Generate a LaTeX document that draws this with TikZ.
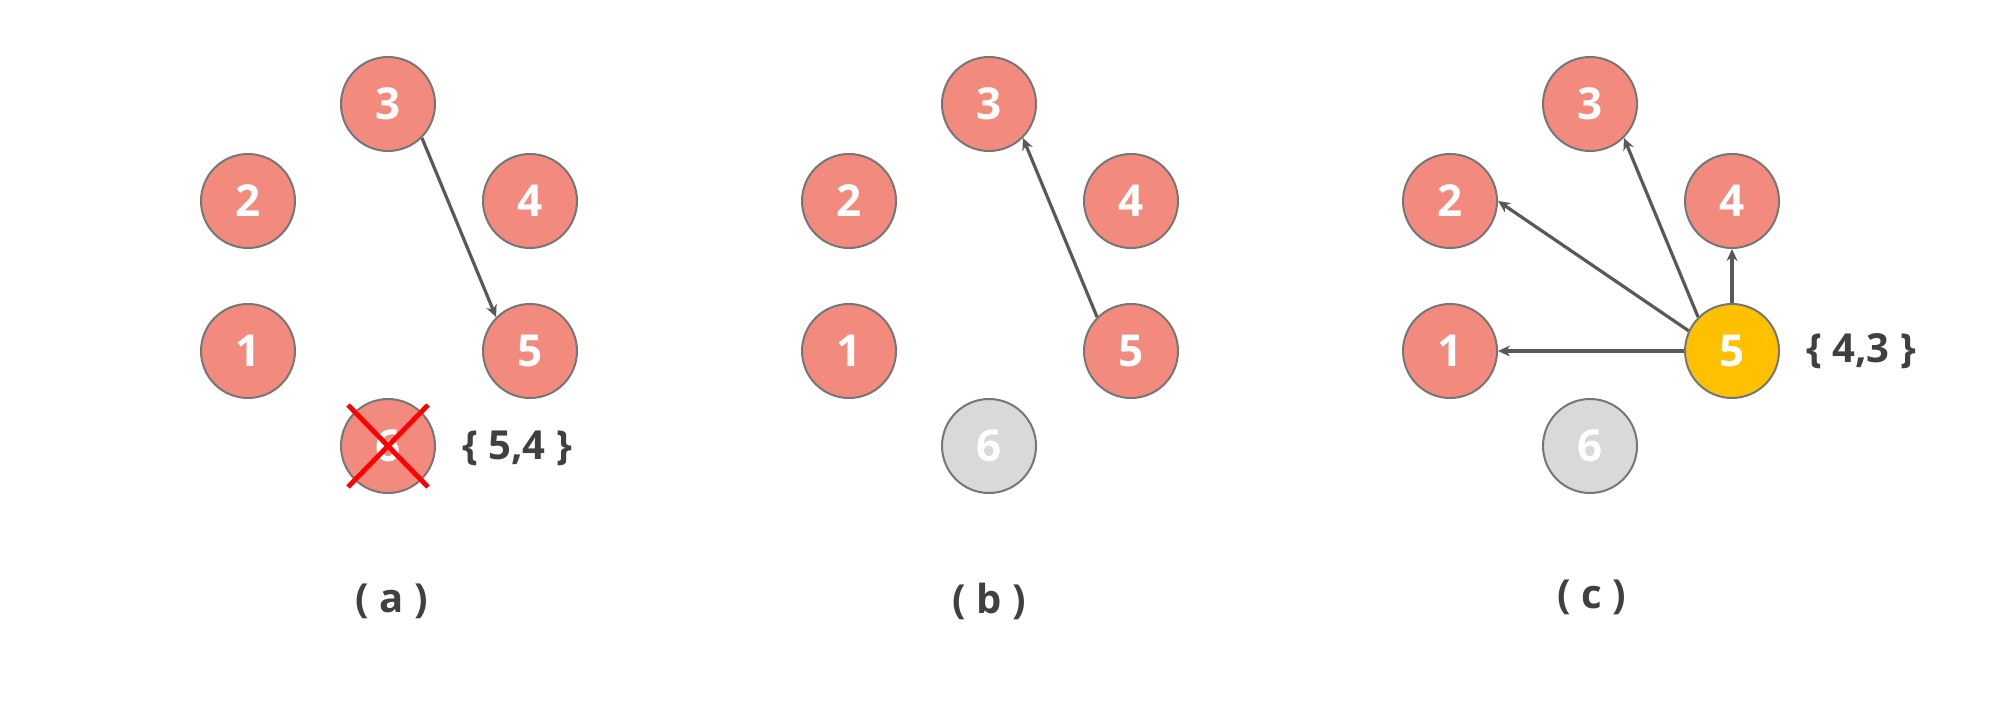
\documentclass[tikz,border=0pt]{standalone}
\usepackage{fontspec}
\setmainfont{Open Sans}
\usetikzlibrary{arrows.meta,backgrounds}
\definecolor{salmon}{HTML}{F28B7D}
\definecolor{gry}{HTML}{D9D9D9}
\definecolor{yel}{HTML}{FFC000}
\definecolor{edgec}{HTML}{595959}
\definecolor{bord}{HTML}{767676}
\definecolor{txt}{HTML}{404040}
\tikzset{
 nd/.style={circle, fill=salmon, draw=bord, line width=1pt, minimum size=47pt, inner sep=0pt, text=white, font=\fontsize{22}{22}\selectfont\bfseries},
 grynd/.style={nd, fill=gry},
 yelnd/.style={nd, fill=yel},
 arr/.style={draw=edgec, line width=1.6pt, -{Stealth[length=6pt,width=5.5pt]}},
 lbl/.style={text=txt, font=\fontsize{20}{20}\selectfont\bfseries},
 cross/.style={draw=red, line width=2.4pt}
}
\newcommand{\shad}[1]{\foreach \rr/\oo in {26/0.04,25/0.06,24/0.08}{\fill[black,opacity=\oo] ([yshift=-4pt]#1.center) circle (\rr pt);}}
\begin{document}
\begin{tikzpicture}[x=0.5pt,y=-0.5pt]
\useasboundingbox (0,0) rectangle (2000,706);
\fill[white] (0,0) rectangle (2000,706);
% panel a
\node[nd] (a1) at (248,351) {1};
\node[nd] (a2) at (248,201) {2};
\node[nd] (a3) at (388,104) {3};
\node[nd] (a4) at (530,201) {4};
\node[nd] (a5) at (530,351) {5};
\node[nd] (a6) at (388,446) {6};
\draw[cross] ([shift={(-40,-41)}]a6.center) -- ([shift={(40,41)}]a6.center);
\draw[cross] ([shift={(40,-41)}]a6.center) -- ([shift={(-40,41)}]a6.center);
\draw[arr] (a3.south east) -- (a5.north west);
\node[lbl] (la) at (517,448) {\{ 5,4 \}};
\node[lbl] (ca) at (392,601) {( a )};
% panel b
\node[nd] (b1) at (849,351) {1};
\node[nd] (b2) at (849,201) {2};
\node[nd] (b3) at (989,104) {3};
\node[nd] (b4) at (1131,201) {4};
\node[nd] (b5) at (1131,351) {5};
\node[grynd] (b6) at (989,446) {6};
\draw[arr] (b5.north west) -- (b3.south east);
\node[lbl] (cb) at (989,601) {( b )};
% panel c
\node[nd] (c1) at (1450,351) {1};
\node[nd] (c2) at (1450,201) {2};
\node[nd] (c3) at (1590,104) {3};
\node[nd] (c4) at (1732,201) {4};
\node[yelnd] (c5) at (1732,351) {5};
\node[grynd] (c6) at (1590,446) {6};
\draw[arr] (c5.west) -- (c1.east);
\draw[arr] (c5.155) -- (c2.east);
\draw[arr] (c5.north west) -- (c3.south east);
\draw[arr] (c5.north) -- (c4.south);
\node[lbl] (lc) at (1861,351) {\{ 4,3 \}};
\node[lbl] (cc) at (1592,597) {( c )};
\begin{scope}[on background layer]
\foreach \p in {a,b,c}{\foreach \n in {1,...,6}{\shad{\p\n}}}
\end{scope}
\end{tikzpicture}
\end{document}
